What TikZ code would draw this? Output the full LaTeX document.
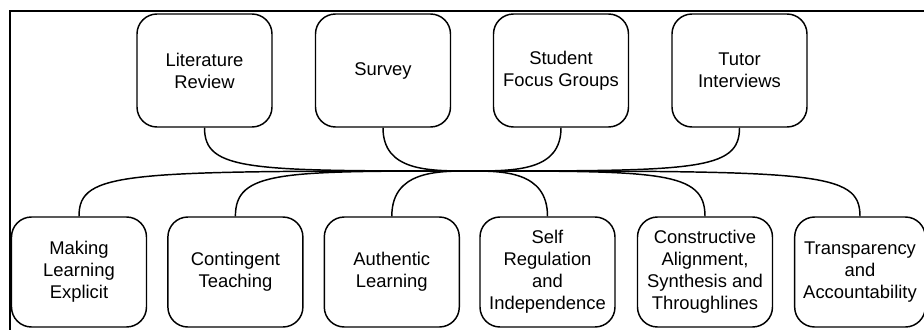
\documentclass[tikz,border=0pt]{standalone}
\usepackage{fontspec}
\setmainfont{Liberation Sans}
\usepackage{tikz}
\usetikzlibrary{calc}
\newcommand{\boxwidth}{101.25pt}
\tikzstyle{stage}=[draw, line width=1.1pt, rounded corners=15pt, align=center, inner sep=0,
                   minimum width=\boxwidth, font=\fontsize{13.8pt}{16.5pt}\selectfont]
\tikzstyle{source}=[stage, minimum height=84.75pt]
\tikzstyle{theme}=[stage, minimum height=82.5pt]
\tikzstyle{link}=[line width=1.1pt]
\tikzstyle{studyframe}=[x=0.75pt, y=-0.75pt,
                        % Fix the picture to the reference's size.
                        execute at begin picture={\useasboundingbox (0,0) rectangle (924,329); \clip (0,0) rectangle (924,329);}]

\begin{document}
\begin{tikzpicture}[studyframe]
        \draw[line width=1.5pt] (9.5,11) rectangle (940,345);
        \coordinate (hub) at (470,171);
        % Sources of evidence
        \node[source] (lit) at (204.5,70.5) {Literature\\Review};
        \node[source] (survey) at (383,70.5) {Survey};
        \node[source] (focus) at (561,70.5) {Student\\Focus Groups};
        \node[source] (tutor) at (739.5,70.5) {Tutor\\Interviews};
        % Themes
        \node[theme] (explicit) at (79,272) {Making\\Learning\\Explicit};
        \node[theme] (contingent) at (235.4,272) {Contingent\\Teaching};
        \node[theme] (authentic) at (391.8,272) {Authentic\\Learning};
        \node[theme] (selfreg) at (547.5,272) {Self\\Regulation\\and\\Independence};
        \node[theme] (alignment) at (705,272) {Constructive\\Alignment,\\Synthesis and\\Throughlines};
        \node[theme, minimum width=98pt] (transparency) at (860,272) {Transparency\\and\\Accountability};
        \foreach \n/\s in {lit/1, survey/1, focus/-1, tutor/-1}
            \draw[link] (\n.south) .. controls (\n.south |- hub) and ($(\n.south |- hub)+(\s*45,0)$) .. (hub);
        \foreach \n/\s in {explicit/1, contingent/1, authentic/1, selfreg/-1, alignment/-1, transparency/-1}
            \draw[link] (\n.north) .. controls (\n.north |- hub) and ($(\n.north |- hub)+(\s*45,0)$) .. (hub);
    \end{tikzpicture}
\end{document}
